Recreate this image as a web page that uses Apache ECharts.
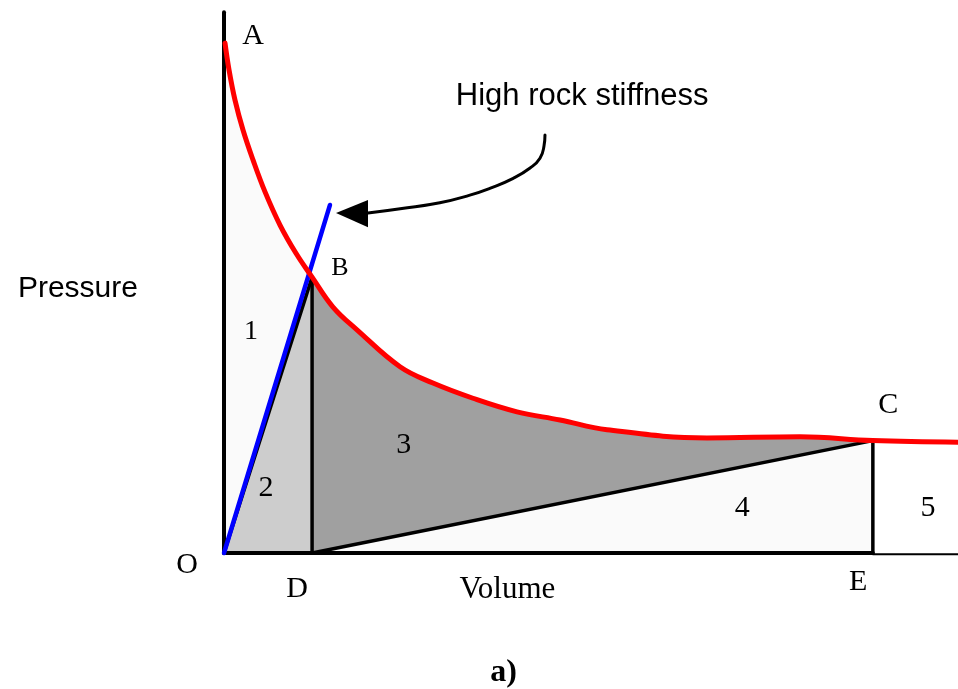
<!DOCTYPE html>
<html>
<head>
<meta charset="utf-8">
<script src="https://cdn.jsdelivr.net/npm/echarts@6/dist/echarts.min.js"></script>
<style>
html,body{margin:0;padding:0;background:#fff;}
#chart{width:958px;height:689px;}
</style>
</head>
<body>
<div id="chart"></div>
<script>
// Pressure–volume curve (red) (x: volume, y: pressure, 0..100 scale)
const curveVolume   = [0.14, 0.68, 1.5, 2.59, 3.95, 5.59, 7.63, 9.81, 12.0, 14.85, 18.12, 23.98, 28.47, 33.92, 39.92, 45.78, 52.18, 65.8, 78.47, 88.4, 100];
const curvePressure = [93.9, 89.0, 83.4, 77.9, 72.4, 66.5, 60.4, 55.2, 50.8, 45.3, 41.1, 34.3, 31.3, 28.5, 26.0, 24.5, 22.7, 21.2, 21.4, 20.7, 20.4];
const idxB = 8, idxC = 19;

// key points
const ptO = [0, 0];
const ptA = [0, 93.9];
const ptB = [12.0, 50.8];
const ptD = [12.0, 0];
const ptC = [88.4, 20.7];
const ptE = [88.4, 0];
const axisTop = [0, 99.6];
const axisTailStart = [88.4, -0.25];
const axisTailEnd = [100, -0.25];
const stiffnessEnd = [14.44, 64.1];

// annotation arrow
const arrowX = [43.73, 43.6, 43.05, 41.7, 39.4, 36.3, 33.5, 29.4, 24.0, 19.62];
const arrowY = [77.0, 75.0, 72.7, 70.9, 69.0, 67.2, 65.9, 64.5, 63.4, 62.6];
const arrowHead = [[15.26, 62.6], [19.62, 65.0], [19.62, 60.0]];

// text labels
const labelText = ['A', 'B', 'C', 'O', 'D', 'E', '1', '2', '3', '4', '5', 'Volume', 'High rock stiffness', 'Pressure', 'a)'];
const labelX    = [3.95, 15.8, 90.5, -5.04, 9.95, 86.4, 3.68, 5.72, 24.5, 70.6, 95.9, 38.6, 48.8, -19.9, 38.1];
const labelY    = [95.2, 52.5, 27.3, -2.2, -6.6, -5.3, 40.7, 12.0, 19.9, 8.3, 8.3, -6.8, 84.0, 48.6, -22.1];
const labelFont = ['30px "Liberation Serif"', '26px "Liberation Serif"', '30px "Liberation Serif"', '30px "Liberation Serif"',
  '30px "Liberation Serif"', '30px "Liberation Serif"', '28px "Liberation Serif"', '30px "Liberation Serif"', '30px "Liberation Serif"',
  '30px "Liberation Serif"', '30px "Liberation Serif"', '31px "Liberation Serif"', '31px "Liberation Sans"', '30px "Liberation Sans"',
  'bold 32px "Liberation Serif"'];

const curve = curveVolume.map((x, i) => [x, curvePressure[i]]);
const region1 = [ptO, ptA].concat(curve.slice(0, idxB + 1));
const region2 = [ptO, ptB, ptD];
const region3 = curve.slice(idxB, idxC + 1).concat([ptC, ptD]);
const region4 = [ptD, ptC, ptE];

function polygon(pts, color, z) {
  return {
    type: 'custom', coordinateSystem: 'cartesian2d', clip: false, silent: true, z: z,
    data: [[0, 0]],
    renderItem: (params, api) => ({
      type: 'polygon',
      shape: { points: pts.map(p => api.coord(p)) },
      style: { fill: color }
    })
  };
}
function line(pts, color, width, z, smooth) {
  return {
    type: 'line', data: pts, symbol: 'none', clip: false, silent: true, z: z,
    smooth: smooth || false,
    lineStyle: { color: color, width: width, cap: 'round', join: 'round' }
  };
}

const chart = echarts.init(document.getElementById('chart'), null, { renderer: 'canvas' });
chart.setOption({
  animation: false,
  backgroundColor: '#ffffff',
  grid: { left: 224, top: 10, width: 734, height: 543, show: false },
  xAxis: { type: 'value', min: 0, max: 100, show: false },
  yAxis: { type: 'value', min: 0, max: 100, show: false },
  series: [
    polygon(region1, '#fafafa', 1),
    polygon(region2, '#cdcdcd', 1),
    polygon(region3, '#a0a0a0', 1),
    polygon(region4, '#fafafa', 1),
    line([ptO, ptB], '#000', 3.5, 3),
    line([ptB, ptD], '#000', 3.5, 3),
    line([ptD, ptC], '#000', 3.5, 3),
    line([ptC, ptE], '#000', 3.5, 3),
    line([ptO, axisTop], '#000', 4, 3),
    line([ptO, ptE], '#000', 4, 3),
    line([axisTailStart, axisTailEnd], '#000', 2, 3),
    line([ptO, stiffnessEnd], '#0000ff', 4.5, 4),
    line(curve, '#ff0000', 5, 5, 0.4),
    line(arrowX.map((x, i) => [x, arrowY[i]]), '#000', 3, 5, 0.5),
    polygon(arrowHead, '#000', 5),
    {
      type: 'custom', coordinateSystem: 'cartesian2d', clip: false, silent: true, z: 6,
      data: labelX.map((x, i) => [x, labelY[i]]),
      renderItem: (params, api) => {
        const i = params.dataIndex;
        const p = api.coord([api.value(0), api.value(1)]);
        return {
          type: 'text', x: p[0], y: p[1],
          style: { text: labelText[i], font: labelFont[i], fill: '#000', align: 'center', verticalAlign: 'middle' }
        };
      }
    }
  ]
});
</script>
</body>
</html>
